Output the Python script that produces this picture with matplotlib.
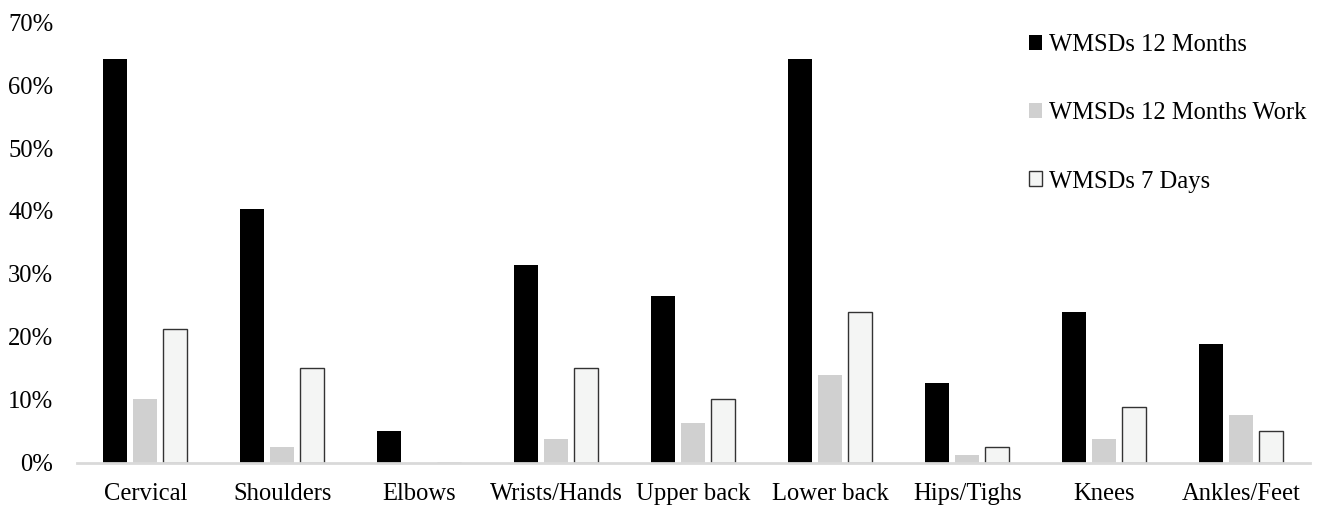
import numpy as np
import matplotlib.pyplot as plt
from matplotlib.ticker import PercentFormatter

plt.rcParams['font.family'] = ['Liberation Serif', 'DejaVu Serif']

regions = ['Cervical', 'Shoulders', 'Elbows', 'Wrists/Hands', 'Upper back',
           'Lower back', 'Hips/Tighs', 'Knees', 'Ankles/Feet']
months12 = [64.1, 40.3, 5.0, 31.4, 26.5, 64.1, 12.6, 23.9, 18.8]
months12_work = [10.1, 2.5, 0.0, 3.7, 6.3, 13.9, 1.2, 3.7, 7.5]
days7 = [21.3, 15.1, 0.0, 15.1, 10.1, 23.9, 2.5, 8.8, 5.0]

fs = 17.7

fig = plt.figure(figsize=(13.2, 5.05), dpi=100)
ax = fig.add_axes([0.0583, 0.084, 0.934, 0.872])

x = np.arange(len(regions))
step = 0.219
w = 0.175
ax.bar(x - step, months12, w, color='black', label='WMSDs 12 Months')
ax.bar(x, months12_work, w, color='#d0d0d0', label='WMSDs 12 Months Work')
ax.bar(x + step, days7, w, color='#f4f5f4', edgecolor='#333333',
       linewidth=1.0, label='WMSDs 7 Days')

ax.set_xlim(-0.5, len(regions) - 0.5)
ax.set_ylim(0, 70)
ax.set_yticks(np.arange(0, 71, 10))
ax.yaxis.set_major_formatter(PercentFormatter(decimals=0))
ax.set_xticks(x)
ax.set_xticklabels(regions)
ax.tick_params(axis='both', length=0, labelsize=fs)
ax.tick_params(axis='x', pad=14.5)
ax.tick_params(axis='y', pad=17)
for side in ['top', 'right', 'left']:
    ax.spines[side].set_visible(False)
ax.spines['bottom'].set_color('#d9d9d9')
ax.spines['bottom'].set_linewidth(2)

fig.legend(loc='upper left', bbox_to_anchor=(0.772, 0.952), frameon=False,
           fontsize=fs, handlelength=0.55, handleheight=0.55,
           handletextpad=0.25, labelspacing=1.88, borderaxespad=0)

fig.savefig('out.png', dpi=100)
